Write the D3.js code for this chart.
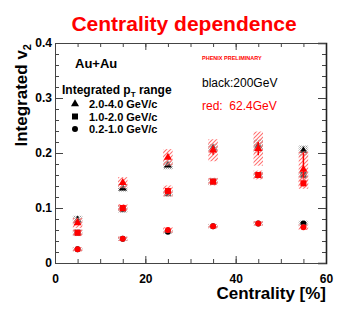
<!DOCTYPE html>
<html>
<head>
<meta charset="utf-8">
<script src="https://cdn.jsdelivr.net/npm/d3@7.9.0/dist/d3.min.js"></script>
<style>
  body { margin: 0; background: #fff; }
  svg { display: block; font-family: 'Liberation Sans', Arial, sans-serif; }
</style>
</head>
<body>
<div id="chart"></div>
<script>
// centrality bins (%) and integrated v2 values
const centrality = [5, 15, 25, 35, 45, 55];

// black: 200 GeV
const v2High200 = [0.078, 0.136, 0.178, 0.209, 0.213, 0.204];
const v2Mid200 = [0.055, 0.098, 0.127, 0.148, 0.160, 0.160];
const v2Low200 = [0.025, 0.044, 0.057, 0.067, 0.072, 0.072];
const sysHigh200 = [0.008, 0.007, 0.008, 0.008, 0.012, 0.010];
const sysMid200 = [0.006, 0.006, 0.006, 0.006, 0.006, 0.006];
const sysLow200 = [0.004, 0.004, 0.004, 0.004, 0.004, 0.005];

// red: 62.4 GeV
const v2High62 = [0.073, 0.146, 0.192, 0.205, 0.208, 0.170];
const v2Mid62 = [0.055, 0.100, 0.131, 0.148, 0.160, 0.145];
const v2Low62 = [0.025, 0.044, 0.060, 0.067, 0.072, 0.065];
const statHigh62 = [0.003, 0.004, 0.005, 0.008, 0.012, 0.031];
const sysHigh62 = [0.009, 0.010, 0.015, 0.020, 0.031, 0.033];
const sysMid62 = [0.006, 0.007, 0.010, 0.007, 0.008, 0.010];
const sysLow62 = [0.004, 0.004, 0.005, 0.004, 0.004, 0.005];

const legendLabels = ['2.0-4.0 GeV/c', '1.0-2.0 GeV/c', '0.2-1.0 GeV/c'];
const xTicks = [0, 20, 40, 60];
const yTicks = [0, 0.1, 0.2, 0.3, 0.4];

const width = 363;
const height = 310;
const area = { left: 55, right: 326, top: 43, bottom: 263 };

const svg = d3.select('#chart')
  .append('svg')
  .attr('width', width)
  .attr('height', height);

const defs = svg.append('defs');
const hatch = defs.append('pattern')
  .attr('id', 'redHatch')
  .attr('patternUnits', 'userSpaceOnUse')
  .attr('width', 4)
  .attr('height', 4);
hatch.append('rect')
  .attr('width', 4).attr('height', 4)
  .attr('fill', '#fff').attr('fill-opacity', 0.35);
hatch.append('path')
  .attr('d', 'M-1,1 L1,-1 M0,4 L4,0 M3,5 L5,3')
  .attr('fill', 'none')
  .attr('stroke', '#ff7070')
  .attr('stroke-width', 1.1);

const dots = defs.append('pattern')
  .attr('id', 'grayDots')
  .attr('patternUnits', 'userSpaceOnUse')
  .attr('width', 2)
  .attr('height', 2);
dots.append('rect').attr('width', 1).attr('height', 1).attr('fill', '#9a9a9a');
dots.append('rect').attr('x', 1).attr('y', 1).attr('width', 1).attr('height', 1).attr('fill', '#c4c4c4');

const xScale = d3.scaleLinear().domain([0, 60]).range([area.left, area.right]);
const yScale = d3.scaleLinear().domain([0, 0.4]).range([area.bottom, area.top]);

// title
svg.append('text')
  .attr('x', 184)
  .attr('y', 31)
  .attr('text-anchor', 'middle')
  .attr('font-size', 21)
  .attr('font-weight', 'bold')
  .attr('fill', '#ff0000')
  .text('Centrality dependence');

// axes, ROOT style: ticks pointing inwards
const axisColor = '#444';
function styleAxis(g) {
  g.select('.domain').attr('stroke', axisColor);
  g.selectAll('.tick line').attr('stroke', axisColor);
  g.selectAll('.tick text')
    .attr('fill', '#000')
    .attr('font-size', 12)
    .attr('font-weight', 'bold')
    .attr('font-family', "'Liberation Sans', Arial, sans-serif");
}

const xMinor = d3.range(0, 61, 5);
const yMinor = d3.range(0, 0.401, 0.02);

svg.append('g')
  .attr('transform', `translate(0,${area.bottom})`)
  .call(d3.axisBottom(xScale).tickValues(xMinor).tickSize(-4).tickFormat(''))
  .call(styleAxis);
svg.append('g')
  .attr('transform', `translate(0,${area.bottom})`)
  .call(d3.axisBottom(xScale).tickValues(xTicks).tickSize(-7).tickSizeOuter(0).tickPadding(11))
  .call(styleAxis);

svg.append('g')
  .attr('transform', `translate(0,${area.top})`)
  .call(d3.axisTop(xScale).tickValues(xMinor).tickSize(-4).tickFormat(''))
  .call(styleAxis);
svg.append('g')
  .attr('transform', `translate(0,${area.top})`)
  .call(d3.axisTop(xScale).tickValues(xTicks).tickSize(-7).tickFormat(''))
  .call(styleAxis);

svg.append('g')
  .attr('transform', `translate(${area.left},0)`)
  .call(d3.axisLeft(yScale).tickValues(yMinor).tickSize(-4).tickFormat(''))
  .call(styleAxis);
svg.append('g')
  .attr('transform', `translate(${area.left},0)`)
  .call(d3.axisLeft(yScale).tickValues(yTicks).tickSize(-8).tickSizeOuter(0).tickPadding(3)
    .tickFormat((d) => (d === 0 ? '0' : d.toFixed(1))))
  .call(styleAxis);

svg.append('g')
  .attr('transform', `translate(${area.right},0)`)
  .call(d3.axisRight(yScale).tickValues(yMinor).tickSize(-4).tickFormat(''))
  .call(styleAxis);
svg.append('g')
  .attr('transform', `translate(${area.right},0)`)
  .call(d3.axisRight(yScale).tickValues(yTicks).tickSize(-8).tickFormat(''))
  .call(styleAxis)
  .call((g) => g.select('.domain').attr('stroke', '#222').attr('stroke-width', 1.6));

// axis titles
svg.append('text')
  .attr('x', 326)
  .attr('y', 299)
  .attr('text-anchor', 'end')
  .attr('font-size', 17)
  .attr('font-weight', 'bold')
  .text('Centrality [%]');

const yTitle = svg.append('text')
  .attr('transform', 'translate(27,44) rotate(-90)')
  .attr('text-anchor', 'end')
  .attr('font-size', 17)
  .attr('font-weight', 'bold');
yTitle.append('tspan').text('Integrated v');
yTitle.append('tspan').attr('font-size', 11).attr('dy', 4).text('2');

// marker shapes
const symbolFor = { tri: d3.symbolTriangle, sq: d3.symbolSquare, circ: d3.symbolCircle };
const sizeFor = { tri: 28, sq: 36, circ: 28 };

function drawSeries(values, sys, kind, color, pattern, stat) {
  const g = svg.append('g');
  const pts = centrality.map((c, i) => ({ c, v: values[i], s: sys[i], e: stat ? stat[i] : 0 }));
  g.selectAll('rect')
    .data(pts)
    .join('rect')
    .attr('x', (d) => xScale(d.c - 1.05))
    .attr('width', (d) => xScale(d.c + 1.05) - xScale(d.c - 1.05))
    .attr('y', (d) => yScale(d.v + d.s))
    .attr('height', (d) => yScale(d.v - d.s) - yScale(d.v + d.s))
    .attr('fill', `url(#${pattern})`);
  g.selectAll('line')
    .data(pts.filter((d) => d.e > 0.005))
    .join('line')
    .attr('x1', (d) => xScale(d.c))
    .attr('x2', (d) => xScale(d.c))
    .attr('y1', (d) => yScale(d.v + d.e))
    .attr('y2', (d) => yScale(d.v - d.e))
    .attr('stroke', color)
    .attr('stroke-width', 1.5);
  g.selectAll('path')
    .data(pts)
    .join('path')
    .attr('transform', (d) => `translate(${xScale(d.c)},${yScale(d.v)})`)
    .attr('d', d3.symbol(symbolFor[kind], sizeFor[kind]))
    .attr('fill', color);
}

drawSeries(v2High200, sysHigh200, 'tri', '#000', 'grayDots');
drawSeries(v2Mid200, sysMid200, 'sq', '#000', 'grayDots');
drawSeries(v2Low200, sysLow200, 'circ', '#000', 'grayDots');
drawSeries(v2High62, sysHigh62, 'tri', '#ff0000', 'redHatch', statHigh62);
drawSeries(v2Mid62, sysMid62, 'sq', '#ff0000', 'redHatch');
drawSeries(v2Low62, sysLow62, 'circ', '#ff0000', 'redHatch');

// annotations
svg.append('text')
  .attr('x', 75).attr('y', 68)
  .attr('font-size', 13).attr('font-weight', 'bold')
  .text('Au+Au');

const ptTitle = svg.append('text')
  .attr('x', 62).attr('y', 94)
  .attr('font-size', 12).attr('font-weight', 'bold');
ptTitle.append('tspan').text('Integrated p');
ptTitle.append('tspan').attr('font-size', 8).attr('dy', 3).text('T');
ptTitle.append('tspan').attr('dy', -3).text(' range');

const legendKinds = ['tri', 'sq', 'circ'];
const legend = svg.append('g');
legendLabels.forEach((label, i) => {
  const y = 104 + i * 12.5;
  legend.append('path')
    .attr('transform', `translate(75,${y})`)
    .attr('d', d3.symbol(symbolFor[legendKinds[i]], sizeFor[legendKinds[i]]))
    .attr('fill', '#000');
  legend.append('text')
    .attr('x', 89).attr('y', y + 4)
    .attr('font-size', 11).attr('font-weight', 'bold')
    .text(label);
});

svg.append('text')
  .attr('x', 202).attr('y', 60)
  .attr('font-size', 5.5).attr('font-weight', 'bold')
  .attr('fill', '#ff0000')
  .text('PHENIX PRELIMINARY');

svg.append('text')
  .attr('x', 202).attr('y', 87)
  .attr('font-size', 12)
  .text('black:200GeV');

svg.append('text')
  .attr('x', 202).attr('y', 110)
  .attr('font-size', 12)
  .attr('fill', '#ff0000')
  .attr('xml:space', 'preserve')
  .style('white-space', 'pre')
  .text('red:  62.4GeV');
</script>
</body>
</html>
